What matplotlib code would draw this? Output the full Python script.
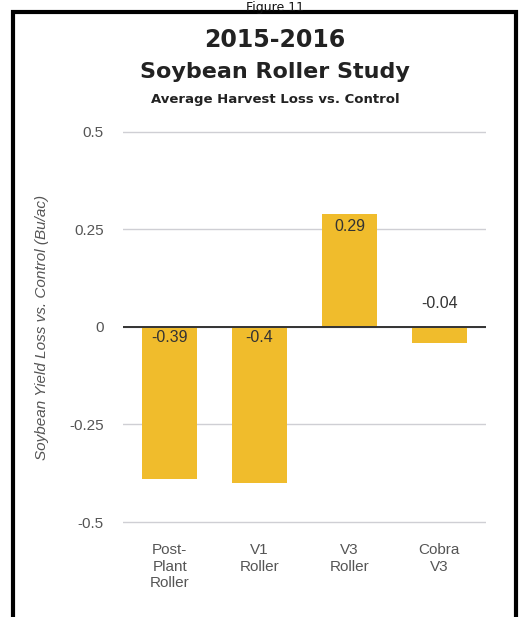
import matplotlib.pyplot as plt
from matplotlib.patches import Rectangle

categories = ['Post-\nPlant\nRoller', 'V1\nRoller', 'V3\nRoller', 'Cobra\nV3']
values = [-0.39, -0.4, 0.29, -0.04]
labels = ['-0.39', '-0.4', '0.29', '-0.04']
yticks = [-0.5, -0.25, 0, 0.25, 0.5]
ytick_labels = ['-0.5', '-0.25', '0', '0.25', '0.5']

plt.rcParams['font.family'] = ['Liberation Sans', 'DejaVu Sans']

fig = plt.figure(figsize=(5.22, 6.17), dpi=100)
ax = fig.add_axes([0.2356, 0.1508, 0.6954, 0.6385])

x = list(range(len(values)))
ax.bar(x, values, width=0.61, color='#F0BC2C', zorder=2)
ax.set_xlim(-0.52, 3.52)
ax.set_ylim(-0.505, 0.505)
ax.set_yticks(yticks)
ax.set_yticklabels(ytick_labels)
ax.set_xticks(x)
ax.set_xticklabels(categories, linespacing=1.2)
ax.tick_params(axis='both', length=0, labelsize=11, colors='#555555')
ax.tick_params(axis='y', pad=14)
ax.tick_params(axis='x', pad=14)
ax.grid(axis='y', color='#cfcfd4', linewidth=1, zorder=0)
ax.axhline(0, color='#333333', linewidth=1.4, zorder=3)
for s in ax.spines.values():
    s.set_visible(False)

for xi, v, lab in zip(x, values, labels):
    if v < -0.1:
        ax.text(xi, -0.008, lab, ha='center', va='top', fontsize=11.5, color='#333333', zorder=4)
    elif v > 0.1:
        ax.text(xi, v - 0.012, lab, ha='center', va='top', fontsize=11.5, color='#333333', zorder=4)
    else:
        ax.text(xi, 0.04, lab, ha='center', va='bottom', fontsize=11.5, color='#333333', zorder=4)

ax.set_ylabel('Soybean Yield Loss vs. Control (Bu/ac)', fontsize=11, style='italic',
              color='#555555', labelpad=14)

fig.text(0.527, 0.935, '2015-2016', ha='center', va='center', fontsize=17,
         fontweight='bold', color='#222222', family='DejaVu Sans')
fig.text(0.527, 0.883, 'Soybean Roller Study', ha='center', va='center', fontsize=16,
         fontweight='bold', color='#222222', family='DejaVu Sans')
fig.text(0.527, 0.838, 'Average Harvest Loss vs. Control', ha='center', va='center', fontsize=9.5,
         fontweight='bold', color='#222222', family='DejaVu Sans')
fig.text(0.527, 0.9985, 'Figure 11', ha='center', va='top', fontsize=9, color='#111111',
         family='DejaVu Sans')

# frame around the figure
fig.patches.append(Rectangle((0.024, -0.05), 0.965, 1.03, transform=fig.transFigure,
                             fill=False, edgecolor='black', linewidth=3))

fig.savefig('out.png', dpi=100)
